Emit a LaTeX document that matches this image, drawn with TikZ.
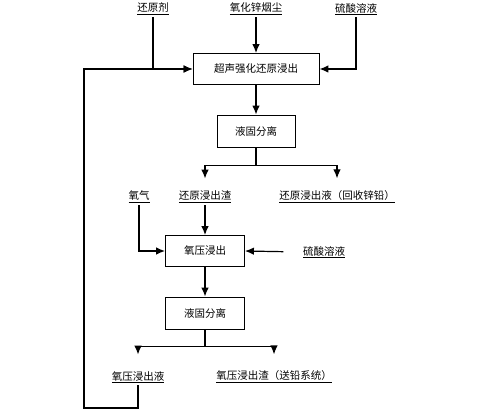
\documentclass[tikz,border=0pt]{standalone}
\usepackage{fontspec}
\newfontfamily\cjk{Noto Sans CJK SC}
\usepackage{tikz}
\usetikzlibrary{calc,positioning,arrows.meta}

\begin{document}
\begin{tikzpicture}[x=1pt, y=-1pt, line width=1.2pt, >={Latex[length=9pt,width=7.5pt]},
  box/.style={draw, line width=0.9pt, inner sep=1pt, font=\cjk\fontsize{10.5}{12}\selectfont},
  lab/.style={inner sep=2pt, font=\cjk\fontsize{10.5}{12}\selectfont}]
\useasboundingbox (0,0) rectangle (500,411);
% top feeds
\node[lab] (hyj) at (153,9) {\underline{还原剂}};
\node[lab] (yhx) at (256,9) {\underline{氧化锌烟尘}};
\node[lab] (lsA) at (356,9) {\underline{硫酸溶液}};
% first stage
\node[box, minimum width=126pt, minimum height=31pt] (cs) at (256,69) {超声强化还原浸出};
\node[box, minimum width=78pt, minimum height=32pt] (yg1) at (256,131) {液固分离};
\node[lab] (hyz) at (205,197) {\underline{还原浸出渣}};
\node[lab] (hyy) at (337,197) {\underline{还原浸出液（回收锌铅）}};
\node[lab] (yq) at (139,197) {\underline{氧气}};
% second stage
\node[box, minimum width=79pt, minimum height=31pt] (yy) at (205,251) {氧压浸出};
\node[lab] (lsB) at (324,252) {\underline{硫酸溶液}};
\node[box, minimum width=79pt, minimum height=32pt] (yg2) at (205,313) {液固分离};
\node[lab] (yyy) at (138,377) {\underline{氧压浸出液}};
\node[lab] (yyz) at (274,377) {\underline{氧压浸出渣（送铅系统）}};
\coordinate (fb) at (84,408);
% connectors
\draw[->] (hyj.south) |- (cs.west);
\draw[->] (yhx.south) -- (cs.north);
\draw[->] (lsA.south) |- (cs.east);
\draw[->] (cs.south) -- (yg1.north);
\draw (yg1.south) -- ++(0,18) coordinate (s1);
\draw[->, shorten >=10pt] (s1) -| (hyz.north);
\draw[->, shorten >=10pt] (s1) -| (hyy.north);
\draw[->] (yq.south) |- (yy.west);
\draw[->] (hyz.south) -- (yy.north);
\draw[->, shorten <=17pt] (lsB.west) -- (yy.east);
\draw[->] (yy.south) -- (yg2.north);
\draw (yg2.south) -- ++(0,17) coordinate (s2);
\draw[->, shorten >=14pt] (s2) -| (yyy.north);
\draw[->, shorten >=14pt] (s2) -| (yyz.north);
\draw[->] (yyy.south) |- (fb) |- (cs.west);
\end{tikzpicture}
\end{document}
